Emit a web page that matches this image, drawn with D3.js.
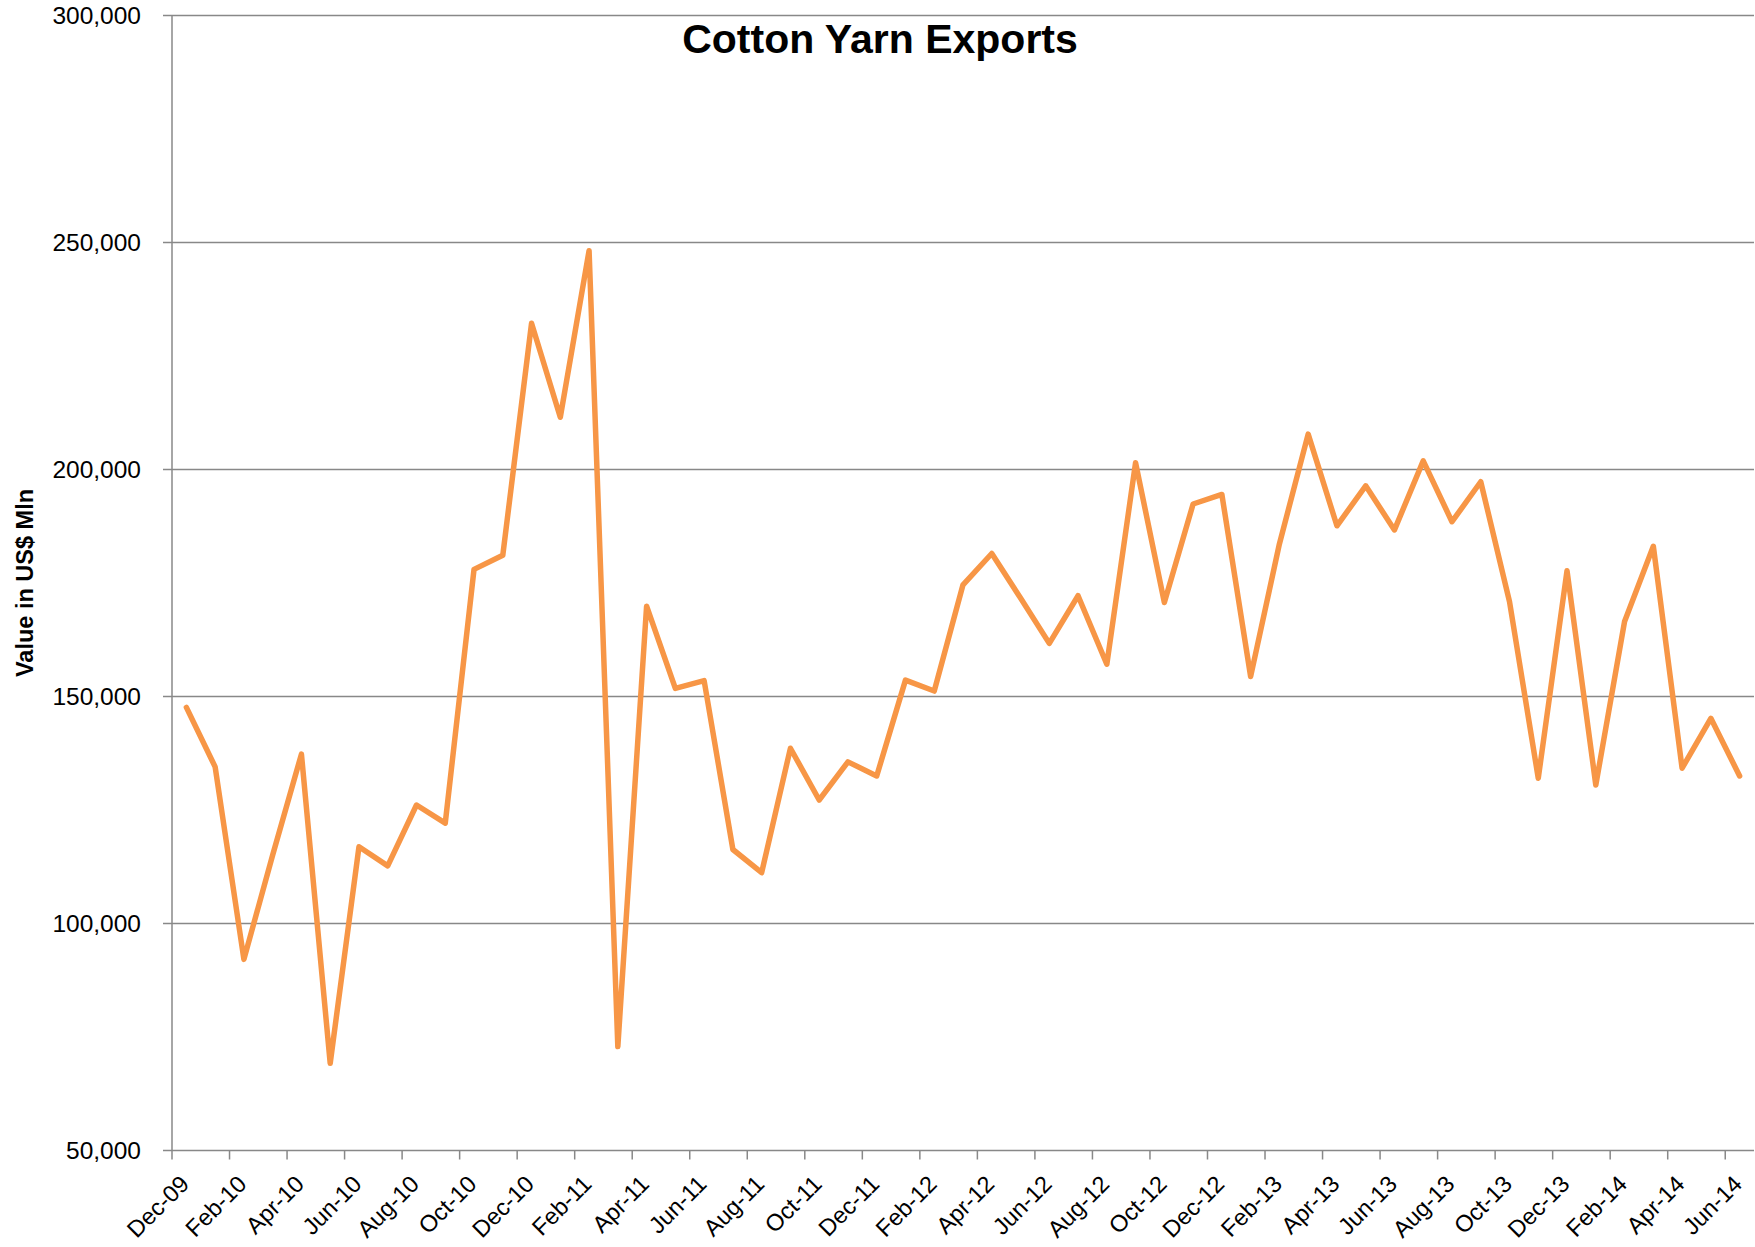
<!DOCTYPE html>
<html>
<head>
<meta charset="utf-8">
<script src="https://cdn.jsdelivr.net/npm/d3@7"></script>
<style>
  html, body { margin: 0; padding: 0; background: #ffffff; }
  svg { display: block; }
</style>
</head>
<body>
<svg id="chart" width="1755" height="1247"></svg>
<script>
// ---- Data ----
const months = [
  "Dec-09",
  "Jan-10","Feb-10","Mar-10","Apr-10","May-10","Jun-10","Jul-10","Aug-10","Sep-10","Oct-10","Nov-10","Dec-10",
  "Jan-11","Feb-11","Mar-11","Apr-11","May-11","Jun-11","Jul-11","Aug-11","Sep-11","Oct-11","Nov-11","Dec-11",
  "Jan-12","Feb-12","Mar-12","Apr-12","May-12","Jun-12","Jul-12","Aug-12","Sep-12","Oct-12","Nov-12","Dec-12",
  "Jan-13","Feb-13","Mar-13","Apr-13","May-13","Jun-13","Jul-13","Aug-13","Sep-13","Oct-13","Nov-13","Dec-13",
  "Jan-14","Feb-14","Mar-14","Apr-14","May-14","Jun-14"
];
const exportValues = [
  147600,
  134500, 92100, 115100, 137300, 69200, 116900, 112700, 126100, 122100, 178000, 181100, 232200,
  211500, 248200, 72900, 169900, 151800, 153500, 116300, 111200, 138600, 127200, 135600, 132500,
  153600, 151200, 174600, 181500, 171700, 161700, 172200, 157100, 201500, 170700, 192400, 194500,
  154400, 183600, 207800, 187600, 196400, 186700, 201900, 188500, 197300, 170900, 132000, 177700,
  130500, 166500, 183100, 134200, 145200, 132500
];
const yTickValues = [50000, 100000, 150000, 200000, 250000, 300000];
const titleText = "Cotton Yarn Exports";
const yAxisTitle = "Value in US$ Mln";

// ---- Layout ----
const W = 1755, H = 1247;
const plot = { left: 172, right: 1754, top: 15.5, bottom: 1150.5 };
const gridColor = "#888888";
const lineColor = "#F79646";
const fontFamily = "'Liberation Sans', Arial, sans-serif";

const svg = d3.select("#chart");
svg.append("rect").attr("width", W).attr("height", H).attr("fill", "#ffffff");

const x = d3.scaleBand().domain(months).range([plot.left, plot.right]).paddingInner(0).paddingOuter(0);
const y = d3.scaleLinear().domain([50000, 300000]).range([plot.bottom, plot.top]);
const bw = x.bandwidth();

// Gridlines
svg.append("g").selectAll("line")
  .data(yTickValues)
  .join("line")
  .attr("x1", plot.left - 9)
  .attr("x2", plot.right)
  .attr("y1", d => y(d))
  .attr("y2", d => y(d))
  .attr("stroke", gridColor)
  .attr("stroke-width", 1.5);

// Y axis line
svg.append("line")
  .attr("x1", plot.left).attr("x2", plot.left)
  .attr("y1", plot.top).attr("y2", plot.bottom)
  .attr("stroke", gridColor).attr("stroke-width", 1.5);

// Y tick labels
const fmt = d3.format(",");
svg.append("g").selectAll("text")
  .data(yTickValues)
  .join("text")
  .attr("x", 141)
  .attr("y", d => y(d))
  .attr("dy", "0.35em")
  .attr("text-anchor", "end")
  .attr("font-family", fontFamily)
  .attr("font-size", 24.5)
  .attr("fill", "#000")
  .text(d => fmt(d));

// X axis ticks (at category boundaries, every 2 months)
const labelMonths = months.filter((m, i) => i % 2 === 0);
svg.append("g").selectAll("line")
  .data(labelMonths)
  .join("line")
  .attr("x1", d => x(d))
  .attr("x2", d => x(d))
  .attr("y1", plot.bottom)
  .attr("y2", plot.bottom + 9)
  .attr("stroke", gridColor)
  .attr("stroke-width", 1.5);

// X labels
svg.append("g").selectAll("text")
  .data(labelMonths)
  .join("text")
  .attr("transform", d => `translate(${x(d) + bw / 2 + 4},${plot.bottom + 35}) rotate(-45)`)
  .attr("text-anchor", "end")
  .attr("font-family", fontFamily)
  .attr("font-size", 23.5)
  .attr("fill", "#000")
  .text(d => d);

// Line
const line = d3.line()
  .x((d, i) => x(months[i]) + bw / 2)
  .y(d => y(d));
svg.append("path")
  .datum(exportValues)
  .attr("d", line)
  .attr("fill", "none")
  .attr("stroke", lineColor)
  .attr("stroke-width", 5.5)
  .attr("stroke-linejoin", "round")
  .attr("stroke-linecap", "round");

// Title
svg.append("text")
  .attr("x", 880)
  .attr("y", 53)
  .attr("text-anchor", "middle")
  .attr("font-family", fontFamily)
  .attr("font-weight", "bold")
  .attr("font-size", 41)
  .attr("fill", "#000")
  .text(titleText);

// Y axis title
svg.append("text")
  .attr("transform", `translate(33,${(plot.top + plot.bottom) / 2}) rotate(-90)`)
  .attr("text-anchor", "middle")
  .attr("font-family", fontFamily)
  .attr("font-weight", "bold")
  .attr("font-size", 23.5)
  .attr("fill", "#000")
  .text(yAxisTitle);
</script>
</body>
</html>
